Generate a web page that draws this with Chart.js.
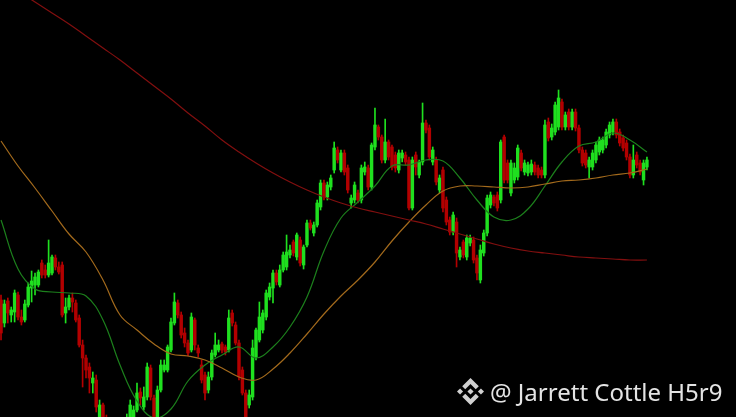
<!DOCTYPE html>
<html>
<head>
<meta charset="utf-8">
<script src="https://cdn.jsdelivr.net/npm/chart.js@4.4.1/dist/chart.umd.min.js"></script>
<style>
  html, body { margin: 0; padding: 0; background: #000; overflow: hidden; }
  #wrap { position: relative; width: 736px; height: 417px; }
  #mark { position: absolute; left: 457px; top: 375px; display: flex; align-items: center;
          font-family: "Noto Sans", sans-serif; font-size: 24px; color: #e4e4e4; white-space: nowrap; }
  #mark svg { width: 27px; height: 27px; margin-right: 6px; }
</style>
</head>
<body>
<div id="wrap">
  <canvas id="kline"></canvas>
  <div id="mark">
    <svg viewBox="0 0 126.61 126.61" fill="#d0d0d0">
      <path d="M38.73 53.2l24.59-24.58 24.6 24.6 14.3-14.31L63.32 0 24.42 38.9l14.31 14.3z"/>
      <path d="M0 63.31l14.3-14.31 14.31 14.31-14.31 14.3z"/>
      <path d="M38.73 73.41l24.59 24.59 24.6-24.6 14.31 14.29-38.9 38.91-38.91-38.88 14.31-14.31z"/>
      <path d="M98 63.31l14.3-14.31 14.31 14.3-14.31 14.32z"/>
      <path d="M77.83 63.3L63.32 48.78 48.81 63.3 63.32 77.82z"/>
    </svg>
    <span>@ Jarrett Cottle H5r9</span>
  </div>
</div>
<script>
// harga per candle (urutan waktu, kiri ke kanan)
const openPrice = [200,177,199,185,188,205,183,180,195,212, 215,215,237,230,225,227,242,233,235,187,
  193,202,197,182,155,142,133,117,120,83, 95,80,72,60,68,62,55,70,83,80,
  90,108,93,103,132,102,83,110,130,130, 150,177,197,185,167,157,150,180,152,135,
  125,110,123,145,150,156,153,150,187,175, 157,130,107,95,103,143,160,170,183,203,
  212,227,215,230,233,245,258,243,260,235, 255,277,267,275,293,317,303,313,330,350,
  330,347,332,297,300,307,300,328,332,313, 353,373,363,340,358,353,345,330,342,345,
  340,292,345,325,338,377,372,338,340,310, 330,300,280,268,278,243,258,243,257,260,
  242,220,247,267,295,303,305,300,363,337, 307,320,323,347,328,327,328,335,332,330,
  325,378,363,368,373,398,373,388,373,388, 372,350,347,333,333,340,348,350,355,365,
  368,378,368,362,357,343,325,345,337,320, 333];
const highPrice = [205,200,202,193,210,208,190,200,217,229, 227,230,240,235,260,245,245,238,238,202,
  205,207,200,185,160,145,137,128,125,100, 97,85,75,72,74,66,75,86,100,94,
  117,112,113,137,135,105,114,140,140,155, 182,207,200,188,172,160,187,182,155,140,
  128,128,150,167,160,158,155,190,190,178, 160,133,110,110,160,172,198,190,210,217,
  230,230,235,248,265,255,260,267,263,255, 280,280,278,300,320,320,318,325,358,353,
  350,350,335,305,318,310,335,338,335,357, 392,375,365,381,360,355,348,350,350,348,
  343,343,348,340,397,380,375,353,343,325, 333,303,283,288,282,253,260,265,265,263,
  245,255,270,305,308,305,308,360,365,340, 340,337,355,350,340,338,340,338,335,333,
  380,382,376,398,410,401,388,391,391,391, 375,353,350,343,350,358,363,363,371,378,
  381,381,371,365,360,346,355,348,340,340, 343];
const lowPrice = [160,173,177,178,178,180,175,178,193,198, 205,213,222,222,223,225,230,226,183,177,
  190,188,178,153,113,122,107,107,88,80, 75,68,55,52,58,50,50,65,80,78,
  88,95,90,100,100,75,80,108,128,128, 148,175,182,162,153,144,148,150,143,117,
  100,107,120,143,148,147,145,148,174,155, 120,105,80,92,100,140,158,167,180,200,
  197,215,213,228,230,242,244,240,234,231, 253,270,264,273,290,300,300,310,327,337,
  328,325,307,292,297,297,297,325,310,310, 350,360,337,337,340,330,328,327,338,335,
  290,290,325,322,335,367,340,335,315,307, 288,275,265,265,233,240,242,240,254,237,
  220,217,244,264,292,294,289,297,317,317, 304,317,320,329,325,324,325,325,322,322,
  322,359,360,365,370,370,370,370,370,369, 347,334,332,322,330,337,345,347,352,362,
  365,362,354,349,340,322,322,332,325,315, 330];
const closePrice = [167,196,187,190,207,183,178,196,213,219, 223,228,225,225,237,243,233,228,185,193,
  202,198,180,155,142,130,122,122,93,95, 80,72,60,68,62,55,70,80,95,90,
  107,102,103,133,103,83,110,135,135,153, 178,198,185,165,157,147,183,155,147,120,
  107,123,147,155,155,150,148,182,177,157, 123,107,83,105,152,170,183,187,207,213,
  227,218,230,245,248,250,247,265,237,253, 277,272,275,297,317,303,315,322,352,340,
  347,328,310,302,315,300,332,333,313,355, 375,363,340,358,343,333,332,347,347,338,
  292,340,333,338,377,370,343,350,318,322, 292,278,268,285,247,250,245,262,262,240,
  227,250,267,302,305,297,292,358,320,320, 337,332,352,332,337,335,336,328,325,325,
  375,362,372,395,402,373,385,373,388,372, 350,337,335,340,347,355,360,360,368,375,
  378,365,357,352,343,325,340,335,328,337, 340];

// garis moving average, dibaca tiap 5 candle
const maIndex = [0,5,10,15,20,25,30,35,40,45, 50,55,60,65,70,75,80,85,90,95,
  100,105,110,115,120,125,130,135,140,145, 150,155,160,165,170,175,180,185,190];
const maShort = [280,231,211,208,207,204,180,135,99,82, 91,119,135,145,153,142,153,173,203,249,
  282,298,314,334,335,340,339,322,300,283, 280,291,314,338,354,358,367,360,348];
const maMid = [359,334,312,289,266,248,220,185,170,156, 146,144,140,132,123,120,131,147,166,186,
  204,220,238,259,278,295,309,314,314,313, 312,313,316,319,320,322,325,327,331];
const maLong = [520,509,498,487,476,464,452,440,427,414, 401,387,374,360,348,337,327,318,310,303,
  297,292,288,284,280,276,271,266,261,256, 252,249,247,245,243,242,241,240,240];

const naik = '#1fe01f';
const turun = '#b30000';
const warnaCandle = closePrice.map((c, i) => c >= openPrice[i] ? naik : turun);

const wickData = highPrice.map((h, i) => ({ x: i, y: [lowPrice[i], h] }));
const bodyData = openPrice.map((o, i) => ({ x: i, y: [o, closePrice[i]] }));

function garisMA(values, color) {
    return {
        type: 'line',
        data: values.map((v, i) => ({ x: maIndex[i], y: v })),
        borderColor: color,
        borderWidth: 1.2,
        pointRadius: 0,
        tension: 0.4,
        order: 0
    };
}

const ctx = document.getElementById('kline').getContext('2d');
document.getElementById('kline').parentNode.style.height = '417px';

new Chart(ctx, {
    type: 'bar',
    data: {
        datasets: [
            garisMA(maLong, '#820f0f'),
            garisMA(maMid, '#a36a1c'),
            garisMA(maShort, '#1c801c'),
            {
                data: bodyData,
                backgroundColor: warnaCandle,
                barThickness: 2.8,
                grouped: false,
                minBarLength: 1,
                order: 1
            },
            {
                data: wickData,
                backgroundColor: warnaCandle,
                barThickness: 1,
                grouped: false,
                order: 2
            }
        ]
    },
    options: {
        responsive: true,
        maintainAspectRatio: false,
        animation: false,
        layout: { padding: 0 },
        plugins: { legend: { display: false }, tooltip: { enabled: false } },
        scales: {
            x: { type: 'linear', min: -0.3, max: 216.2, display: false, offset: false },
            y: { min: 83, max: 500, display: false }
        }
    }
});
</script>
</body>
</html>
